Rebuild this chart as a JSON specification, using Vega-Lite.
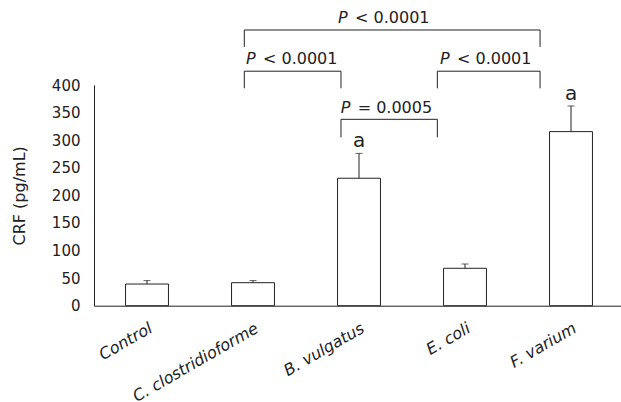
{
  "$schema": "https://vega.github.io/schema/vega-lite/v6.json",
  "width": 530,
  "height": 220.7,
  "autosize": "none",
  "padding": {"left": 94, "top": 85, "right": 0, "bottom": 96.3},
  "background": "white",
  "config": {
    "font": "DejaVu Sans",
    "view": {"stroke": null},
    "axis": {"grid": false, "domainColor": "#222", "tickColor": "#222", "labelColor": "#222", "titleColor": "#222", "domainWidth": 1, "tickWidth": 1}
  },
  "datasets": {
    "bars": [
      {"group": "Control", "mean": 39.3, "upper": 45.5, "sig": ""},
      {"group": "C. clostridioforme", "mean": 41.7, "upper": 45.5, "sig": ""},
      {"group": "B. vulgatus", "mean": 231, "upper": 276, "sig": "a"},
      {"group": "E. coli", "mean": 67.8, "upper": 75.6, "sig": ""},
      {"group": "F. varium", "mean": 315.5, "upper": 362, "sig": "a"}
    ],
    "brackets": [
      {"x1": 1.418, "x2": 4.208, "ytop": 499.7, "ybot": 469, "xt": 2.302, "yt": 512.9, "p": "P", "rest": "< 0.0001"},
      {"x1": 1.418, "x2": 2.33, "ytop": 425, "ybot": 394, "xt": 1.434, "yt": 438, "p": "P", "rest": "< 0.0001"},
      {"x1": 3.239, "x2": 4.208, "ytop": 425, "ybot": 394, "xt": 3.264, "yt": 438, "p": "P", "rest": "< 0.0001"},
      {"x1": 2.33, "x2": 3.239, "ytop": 337.8, "ybot": 305.2, "xt": 2.327, "yt": 348.7, "p": "P", "rest": "= 0.0005"}
    ],
    "yticks": [{"v": 0}, {"v": 50}, {"v": 100}, {"v": 150}, {"v": 200}, {"v": 250}, {"v": 300}, {"v": 350}, {"v": 400}],
    "xticks": [{"b": 0}, {"b": 1}, {"b": 2}, {"b": 3}, {"b": 4}, {"b": 5}]
  },
  "resolve": {"scale": {"x": "independent", "y": "independent"}, "axis": {"x": "independent", "y": "independent"}},
  "layer": [
    {
      "data": {"name": "bars"},
      "encoding": {
        "x": {
          "field": "group", "type": "nominal", "sort": null,
          "scale": {"paddingInner": 0, "paddingOuter": 0},
          "axis": {"title": null, "ticks": false, "labelAngle": -30, "labelFontStyle": "italic", "labelFontSize": 16, "labelPadding": 14}
        },
        "y": {"field": "mean", "type": "quantitative", "scale": {"domain": [0, 400], "nice": false},
          "axis": {"title": "CRF (pg/mL)", "values": [0, 50, 100, 150, 200, 250, 300, 350, 400], "ticks": false, "labelPadding": 14, "labelFontSize": 15, "titleFontSize": 16, "titleFontWeight": "normal", "titlePadding": 24}}
      },
      "layer": [
        {
          "mark": {"type": "bar", "fill": "white", "stroke": "#222", "strokeWidth": 1, "width": {"band": 0.405}}
        },
        {
          "mark": {"type": "rule", "color": "#222", "strokeWidth": 1},
          "encoding": {
            "y2": {"field": "upper"}
          }
        },
        {
          "mark": {"type": "tick", "color": "#222", "thickness": 1, "size": 7, "orient": "horizontal"},
          "encoding": {
            "y": {"field": "upper", "type": "quantitative"}
          }
        },
        {
          "mark": {"type": "text", "fontSize": 20, "baseline": "alphabetic", "dy": -6, "color": "#222"},
          "encoding": {
            "y": {"field": "upper", "type": "quantitative"},
            "text": {"field": "sig"}
          }
        }
      ]
    },
    {
      "data": {"name": "brackets"},
      "encoding": {
        "x": {"field": "x1", "type": "quantitative", "scale": {"domain": [0, 5], "nice": false, "zero": false}, "axis": null},
        "y": {"field": "ytop", "type": "quantitative", "scale": {"domain": [0, 400], "nice": false}, "axis": null}
      },
      "layer": [
        {
          "mark": {"type": "rule", "color": "#222", "strokeWidth": 1},
          "encoding": {"x2": {"field": "x2"}}
        },
        {
          "mark": {"type": "rule", "color": "#222", "strokeWidth": 1},
          "encoding": {"y": {"field": "ybot", "type": "quantitative"}, "y2": {"field": "ytop"}}
        },
        {
          "mark": {"type": "rule", "color": "#222", "strokeWidth": 1},
          "encoding": {"x": {"field": "x2", "type": "quantitative"}, "y": {"field": "ybot", "type": "quantitative"}, "y2": {"field": "ytop"}}
        },
        {
          "mark": {"type": "text", "fontSize": 16, "fontStyle": "italic", "align": "left", "baseline": "alphabetic", "color": "#222"},
          "encoding": {"x": {"field": "xt", "type": "quantitative"}, "y": {"field": "yt", "type": "quantitative"}, "text": {"field": "p"}}
        },
        {
          "mark": {"type": "text", "fontSize": 16, "align": "left", "baseline": "alphabetic", "dx": 17, "color": "#222"},
          "encoding": {"x": {"field": "xt", "type": "quantitative"}, "y": {"field": "yt", "type": "quantitative"}, "text": {"field": "rest"}}
        },
        {
          "data": {"name": "yticks"},
          "mark": {"type": "rule", "color": "#222", "strokeWidth": 1},
          "encoding": {"x": {"datum": 0, "type": "quantitative"}, "x2": {"datum": 0.0566}, "y": {"field": "v", "type": "quantitative"}}
        },
        {
          "data": {"name": "xticks"},
          "mark": {"type": "rule", "color": "#222", "strokeWidth": 1},
          "encoding": {"x": {"field": "b", "type": "quantitative"}, "y": {"datum": 0, "type": "quantitative"}, "y2": {"datum": 12.7}}
        }
      ]
    }
  ]
}
